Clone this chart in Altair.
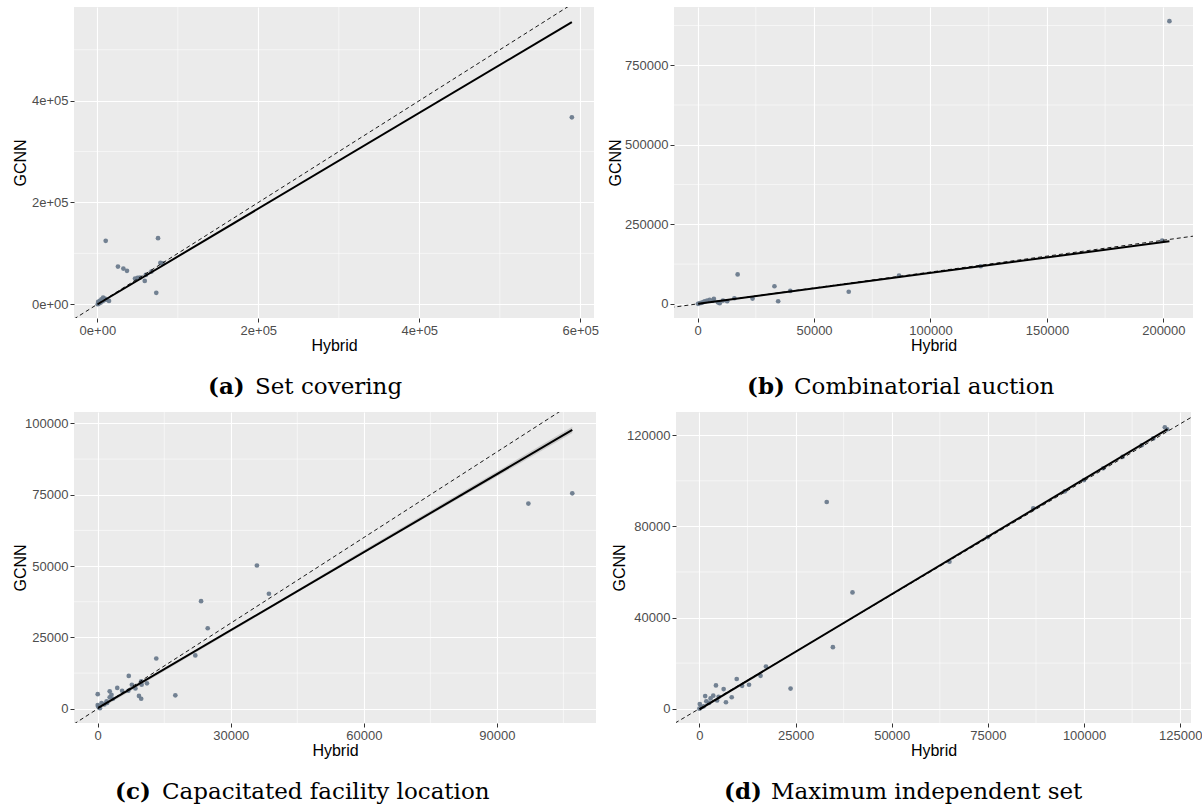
import altair as alt
import pandas as pd

# ---------------- data ----------------
# (a) Set covering
a_x = [589500, 10400, 75400, 25600, 32300, 36800, 46800, 58900, 67200, 60200, 73200,
       78300, 81500, 14500, 50000, 53000, 1000, 3000, 5100, 7200, 9200, 500, 2000, 4000,
       6500, 8000, 1500, 11000]
a_y = [367300, 124600, 129900, 74000, 70100, 65600, 50400, 45900, 64200, 57700, 22500,
       81300, 80500, 6500, 52000, 52400, 4500, 6500, 9800, 13000, 11000, 0, 2000, 3000,
       6000, 8000, 1000, 9000]
a_fit_x = [300, 589500]
a_fit_y = [0, 554300]

# (b) Combinatorial auction
b_x = [202600, 17200, 33000, 34600, 64900, 23600, 86500, 121600, 39800, 15800, 2300, 4100,
       7000, 6600, 8700, 9500, 10900, 12700, 860, 3000, 5200, 200, 1500, 199500]
b_y = [888700, 92500, 55400, 8200, 38200, 16600, 89000, 118200, 40700, 17600, 5000, 10400,
       15700, 10400, 5000, 2000, 10400, 8200, 2000, 8200, 12600, 0, 3000, 199000]
b_fit_x = [300, 202600]
b_fit_y = [500, 196900]

# (c) Capacitated facility location
c_x = [107000, 97100, 35900, 38600, 23300, 24800, 22000, 13200, 17500, 0, 2700, 4400, 7000,
       5500, 6900, 8500, 9300, 9800, 9800, 11100, 9900, 3100, 2700, 2000, 860, 100, 500, 0,
       2100, 3400, 7700, 1500, 300]
c_y = [75500, 71900, 50200, 40300, 37700, 28200, 18700, 17600, 4700, 5100, 6100, 7300, 11500,
       6300, 6300, 7100, 4500, 3500, 9600, 8900, 8400, 4900, 4000, 2600, 2000, 800, 200, 1300,
       2000, 3500, 8400, 1500, 500]
c_fit_x = [100, 107000]
c_fit_y = [300, 97700]
c_band_x = [100, 20000, 60000, 107000]
c_band_lo = [-400, 17800, 54500, 96600]
c_band_hi = [1000, 18500, 55600, 98800]

# (d) Maximum independent set
d_x = [33100, 39800, 34700, 23700, 65000, 86800, 17300, 15900, 12900, 11100, 9700, 8400, 6900,
       6300, 4300, 4600, 3600, 2900, 1500, 1800, 100, 500, 1100, 0, 2500, 5000, 100000,
       110000, 115000, 121600, 118000, 95000, 105000, 121000, 75000]
d_y = [90700, 51000, 27000, 8800, 64500, 87900, 18500, 14400, 10500, 10000, 13000, 5000, 2800,
       8600, 10200, 3600, 5700, 4500, 5500, 3200, 2000, 600, 1000, 0, 2500, 5200, 100300,
       110500, 115600, 122600, 118600, 95400, 105500, 123500, 75300]
d_fit_x = [50, 121700]
d_fit_y = [-300, 122700]

# axes: domains, major and minor breaks
a_dom_x, a_dom_y = [-29000, 617000], [-27000, 584000]
b_dom_x, b_dom_y = [-10130, 212730], [-44400, 933100]
c_dom_x, c_dom_y = [-5350, 112350], [-5000, 104000]
d_dom_x, d_dom_y = [-6085, 127800], [-6300, 130200]

a_xmaj, a_xmin = [0, 200000, 400000, 600000], [100000, 300000, 500000]
a_ymaj, a_ymin = [0, 200000, 400000], [100000, 300000, 500000]
b_xmaj, b_xmin = [0, 50000, 100000, 150000, 200000], [25000, 75000, 125000, 175000]
b_ymaj, b_ymin = [0, 250000, 500000, 750000], [125000, 375000, 625000, 875000]
c_xmaj, c_xmin = [0, 30000, 60000, 90000], [15000, 45000, 75000, 105000]
c_ymaj, c_ymin = [0, 25000, 50000, 75000, 100000], [12500, 37500, 62500, 87500]
d_xmaj, d_xmin = [0, 25000, 50000, 75000, 100000, 125000], [12500, 37500, 62500, 87500, 112500]
d_ymaj, d_ymin = [0, 40000, 80000, 120000], [20000, 60000, 100000]

tags = ["(a)", "(b)", "(c)", "(d)"]
captions = ["Set covering", "Combinatorial auction", "Capacitated facility location",
            "Maximum independent set"]

SCI = "datum.value == 0 ? '0e+00' : format(datum.value / 100000, 'd') + 'e+05'"

POINT_COLOR = "#6B7B8D"
SANS = "Liberation Sans"
SERIF = "DejaVu Serif"


def axis(values, title, extent, expr=None):
    kw = dict(values=values, title=title, grid=True, gridColor="white", gridWidth=1.1,
              domain=False, tickColor="#333333", tickSize=4, tickWidth=1,
              labelColor="#4D4D4D", labelFont=SANS, labelFontSize=13, labelPadding=2,
              titleFont=SANS, titleFontSize=16, titleFontWeight="normal",
              titleColor="black", titlePadding=0, minExtent=extent, maxExtent=extent)
    if expr:
        kw["labelExpr"] = expr
    else:
        kw["format"] = "d"
    return alt.Axis(**kw)


def panel(px, py, fx, fy, dom_x, dom_y, xmaj, xmin, ymaj, ymin, w, h, tag, cap, cap_x,
          yext, sci=False, band=None):
    sx = alt.Scale(domain=dom_x, nice=False, zero=False)
    sy = alt.Scale(domain=dom_y, nice=False, zero=False)
    expr = SCI if sci else None
    ax = axis(xmaj, "Hybrid", 19, expr)
    ay = axis(ymaj, "GCNN", yext, expr)

    def X(f):
        return alt.X(f, scale=sx, axis=ax)

    def Y(f):
        return alt.Y(f, scale=sy, axis=ay)

    layers = []
    layers.append(alt.Chart(pd.DataFrame({"v": xmin})).mark_rule(
        color="white", strokeWidth=0.55).encode(x=X("v:Q")))
    layers.append(alt.Chart(pd.DataFrame({"v": ymin})).mark_rule(
        color="white", strokeWidth=0.55).encode(y=Y("v:Q")))
    if band is not None:
        bx, blo, bhi = band
        layers.append(alt.Chart(pd.DataFrame({"x": bx, "lo": blo, "hi": bhi})).mark_area(
            color="#999999", opacity=0.4, clip=True).encode(
            x=X("x:Q"), y=Y("lo:Q"), y2="hi:Q"))
    layers.append(alt.Chart(pd.DataFrame({"Hybrid": px, "GCNN": py})).mark_circle(
        color=POINT_COLOR, size=22, opacity=0.95, clip=True).encode(
        x=X("Hybrid:Q"), y=Y("GCNN:Q")))
    layers.append(alt.Chart(pd.DataFrame({"x": fx, "y": fy})).mark_line(
        color="black", strokeWidth=2, clip=True).encode(x=X("x:Q"), y=Y("y:Q")))
    lo = min(dom_x[0], dom_y[0])
    hi = max(dom_x[1], dom_y[1])
    layers.append(alt.Chart(pd.DataFrame({"x": [lo, hi], "y": [lo, hi]})).mark_line(
        color="black", strokeWidth=0.9, strokeDash=[4, 3], clip=True).encode(
        x=X("x:Q"), y=Y("y:Q")))
    capdf = pd.DataFrame({"tag": [tag], "cap": [cap]})
    layers.append(alt.Chart(capdf).mark_text(
        font=SERIF, fontSize=23, fontWeight="bold", align="left", baseline="alphabetic",
        color="black").encode(text="tag:N", x=alt.value(cap_x), y=alt.value(h + 76)))
    layers.append(alt.Chart(capdf).mark_text(
        font=SERIF, fontSize=23, fontWeight="normal", align="left", baseline="alphabetic",
        color="black").encode(text="cap:N", x=alt.value(cap_x + 47), y=alt.value(h + 76)))
    return alt.layer(*layers).properties(width=w, height=h)


H = 311
pa = panel(a_x, a_y, a_fit_x, a_fit_y, a_dom_x, a_dom_y, a_xmaj, a_xmin, a_ymaj, a_ymin,
           520, H, tags[0], captions[0], 134, 46, sci=True)
pb = panel(b_x, b_y, b_fit_x, b_fit_y, b_dom_x, b_dom_y, b_xmaj, b_xmin, b_ymaj, b_ymin,
           519, H, tags[1], captions[1], 73, 51)
pc = panel(c_x, c_y, c_fit_x, c_fit_y, c_dom_x, c_dom_y, c_xmaj, c_xmin, c_ymaj, c_ymin,
           522, H, tags[2], captions[2], 41, 46, band=(c_band_x, c_band_lo, c_band_hi))
pd_ = panel(d_x, d_y, d_fit_x, d_fit_y, d_dom_x, d_dom_y, d_xmaj, d_xmin, d_ymaj, d_ymin,
            515, H, tags[3], captions[3], 48, 49)

row1 = alt.hconcat(pa, pb, spacing=8)
row2 = alt.hconcat(pc, pd_, spacing=14)
chart = alt.vconcat(row1, row2, spacing=12).properties(
    padding={"left": 12, "top": 6, "right": 0, "bottom": 0},
    background="white",
).configure_view(fill="#EBEBEB", strokeWidth=0)

chart.save("out.html", embed_options={"renderer": "svg", "actions": False})
